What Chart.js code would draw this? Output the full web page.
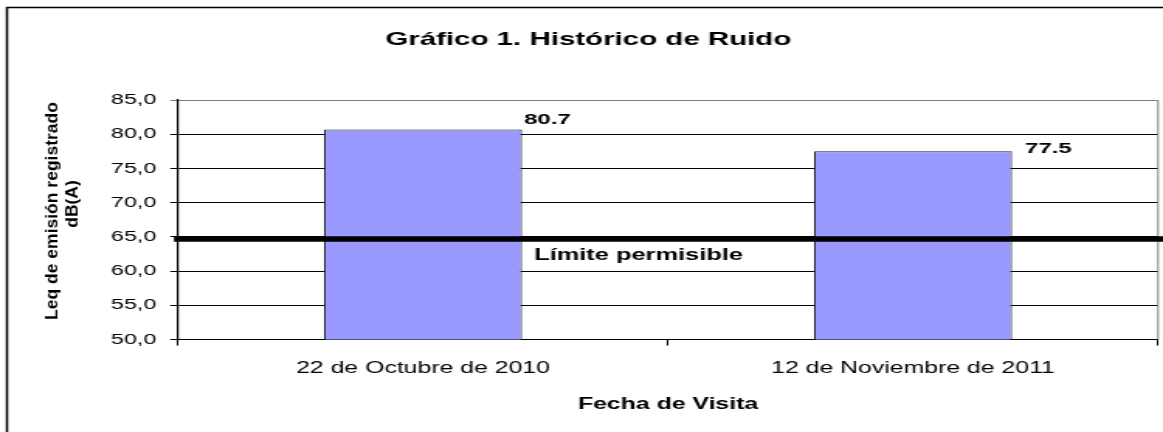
<!DOCTYPE html>
<html>
<head>
<meta charset="utf-8">
<script src="https://cdn.jsdelivr.net/npm/chart.js@4.4.1/dist/chart.umd.min.js"></script>
<style>
  html, body { margin: 0; padding: 0; background: #fff; }
</style>
</head>
<body>
<canvas id="chart" width="750" height="432" style="width:1163px;height:432px"></canvas>
<script>
const fechas = ["22 de Octubre de 2010", "12 de Noviembre de 2011"];
const ruido = [80.7, 77.5];
const limite = 64.7;
const yTicks = [50, 55, 60, 65, 70, 75, 80, 85];

const FONT = '"Liberation Sans", Arial, sans-serif';
// the original picture is stretched sideways, so draw narrow and stretch the canvas
const SX = 1163 / 750;

/* frames, limit line, value labels, y title */
const extras = {
  id: "extras",
  beforeDraw(c) {
    const ctx = c.ctx;
    ctx.save();
    ctx.fillStyle = "#fff";
    ctx.fillRect(0, 0, c.width, c.height);
    ctx.strokeStyle = "#000";
    ctx.lineWidth = 1.5;
    ctx.strokeRect(4.5, 7.5, c.width + 20, c.height + 20);

    // y title, kept unstretched
    ctx.fillStyle = "#000";
    ctx.font = "bold 17.5px " + FONT;
    ctx.textAlign = "center";
    ctx.textBaseline = "middle";
    [["Leq de emisión registrado", 33.5, 211], ["dB(A)", 47.1, 204]].forEach(([t, x, y]) => {
      ctx.save();
      ctx.translate(x, y);
      ctx.scale(1 / SX, 1);
      ctx.rotate(-Math.PI / 2);
      ctx.fillText(t, 0, 0);
      ctx.restore();
    });
    ctx.restore();
  },
  afterDatasetsDraw(c) {
    const ctx = c.ctx, a = c.chartArea, y = c.scales.y;
    ctx.save();
    // gray right edge of plot
    ctx.strokeStyle = "#808080";
    ctx.lineWidth = 1;
    ctx.beginPath();
    ctx.moveTo(a.right, a.top);
    ctx.lineTo(a.right, a.bottom);
    ctx.stroke();

    // limit line
    const ly = y.getPixelForValue(limite);
    ctx.strokeStyle = "#000";
    ctx.lineWidth = 5.5;
    ctx.beginPath();
    ctx.moveTo(a.left - 2.6, ly);
    ctx.lineTo(c.width, ly);
    ctx.stroke();

    ctx.fillStyle = "#000";
    ctx.textBaseline = "middle";
    ctx.textAlign = "left";
    ctx.font = "bold 16.4px " + FONT;
    ctx.fillText("Límite permisible", a.left + 229.6, ly + 16.5);

    // value labels
    const offs = [[1.3, -9.5], [8.4, -2.2]];
    ctx.font = "bold 15.5px " + FONT;
    c.getDatasetMeta(0).data.forEach((b, i) => {
      ctx.fillText(ruido[i].toFixed(1), b.x + b.width / 2 + offs[i][0], b.y + offs[i][1]);
    });
    ctx.restore();
  }
};

new Chart(document.getElementById("chart"), {
  type: "bar",
  data: {
    labels: fechas,
    datasets: [{
      data: ruido,
      backgroundColor: "#9999ff",
      borderColor: "#222",
      borderWidth: 1,
      borderSkipped: false,
      barPercentage: 0.404,
      categoryPercentage: 1
    }]
  },
  options: {
    responsive: false,
    animation: false,
    devicePixelRatio: 1,
    layout: { padding: { left: 12, right: 3.2, top: 0, bottom: 17.6 } },
    plugins: {
      legend: { display: false },
      tooltip: { enabled: false },
      title: {
        display: true,
        text: "Gráfico 1. Histórico de Ruido",
        color: "#000",
        font: { family: FONT, size: 19, weight: "bold" },
        padding: { top: 28, bottom: 49.2 }
      }
    },
    scales: {
      x: {
        grid: { offset: true, drawOnChartArea: false, tickLength: 6, color: "#000" },
        border: { color: "#000", width: 1 },
        ticks: { color: "#000", font: { family: FONT, size: 16 }, padding: 13.5, maxRotation: 0 },
        title: {
          display: true,
          text: "Fecha de Visita",
          color: "#000",
          font: { family: FONT, size: 16, weight: "bold" },
          padding: { top: 3.5, bottom: 0 }
        }
      },
      y: {
        min: 50,
        max: 85,
        afterBuildTicks: s => { s.ticks = yTicks.map(v => ({ value: v })); },
        afterFit: s => { s.width = 102.8; },
        grid: {
          color: ctx => ctx.tick && ctx.tick.value === 85 ? "#808080" : "#000",
          tickLength: 5
        },
        border: { color: "#000", width: 1.2 },
        ticks: {
          color: "#000",
          font: { family: FONT, size: 15 },
          padding: 9,
          callback: v => v.toFixed(1).replace(".", ",")
        }
      }
    }
  },
  plugins: [extras]
});
</script>
</body>
</html>
